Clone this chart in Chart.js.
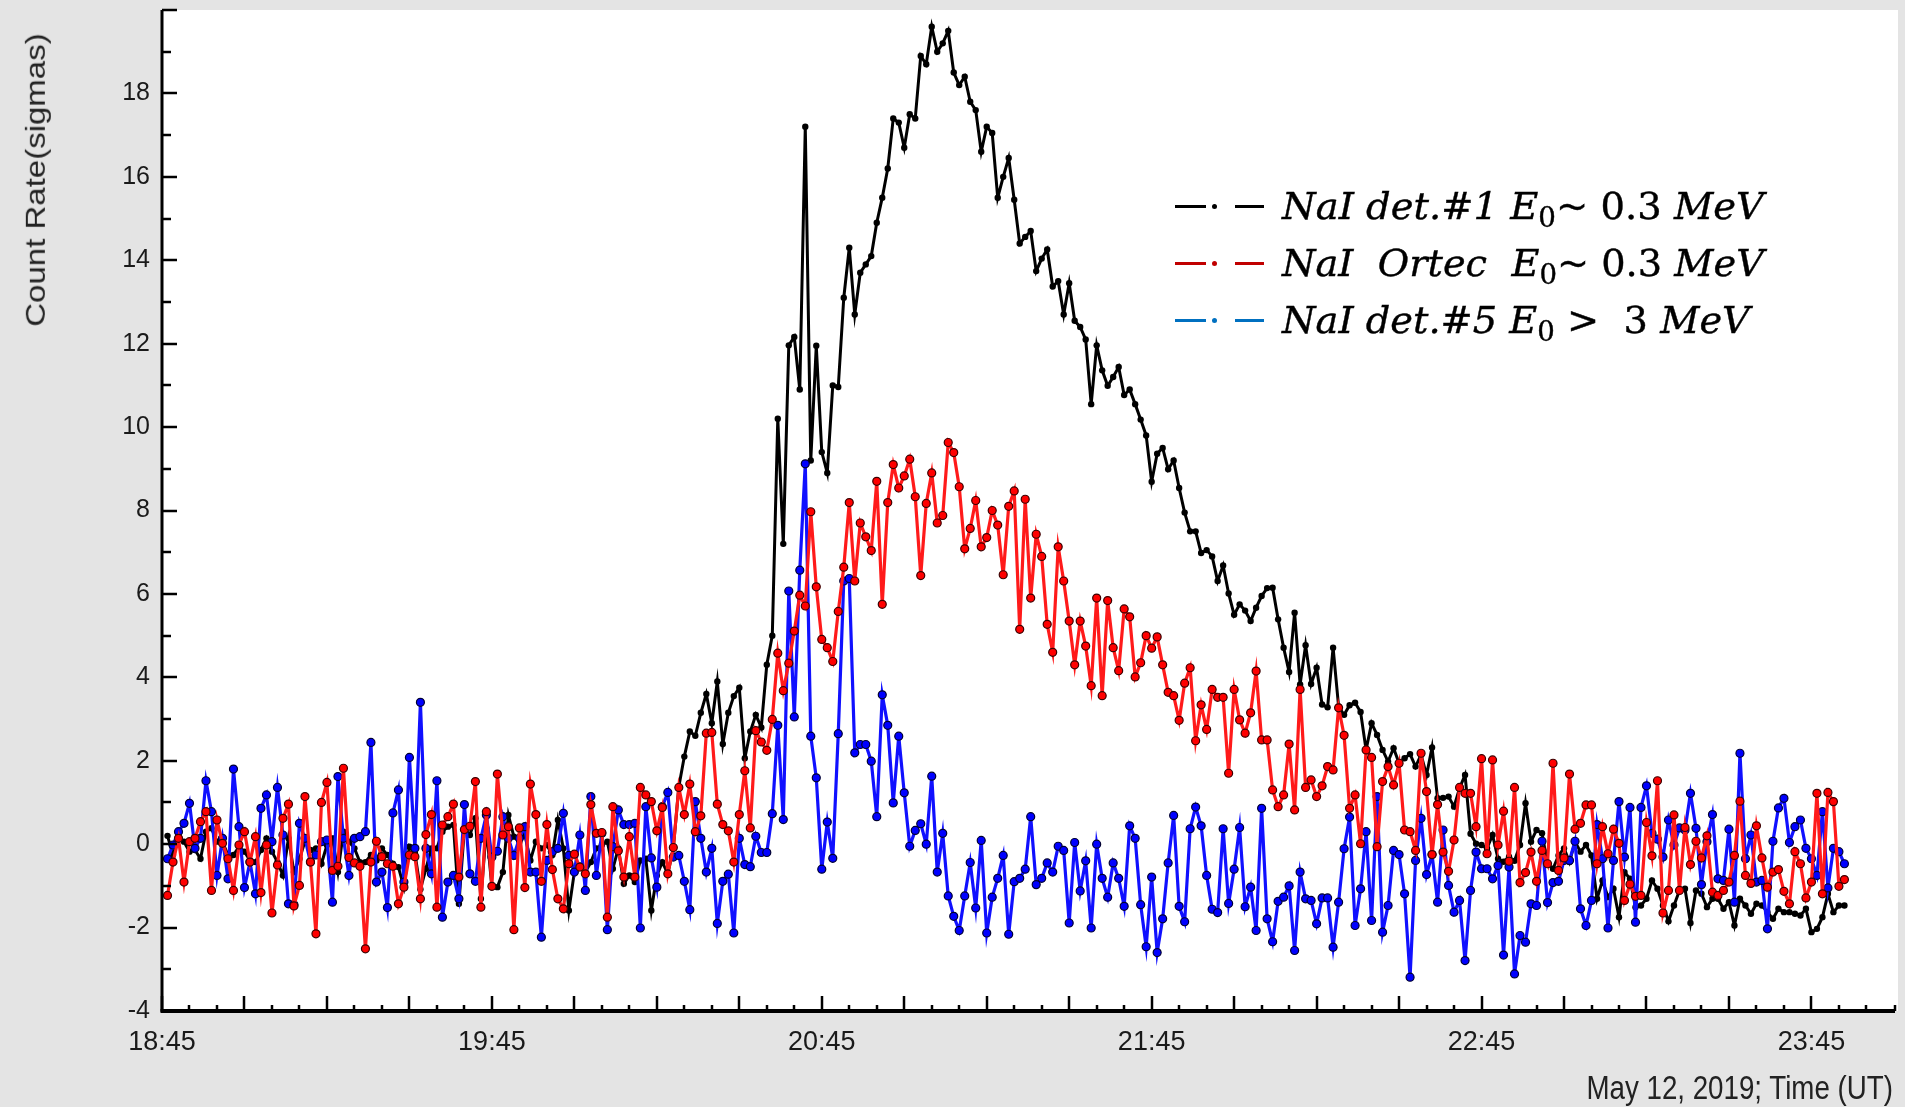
<!DOCTYPE html>
<html>
<head>
<meta charset="utf-8">
<script src="https://cdn.jsdelivr.net/npm/chart.js@4.4.1/dist/chart.umd.min.js"></script>
<style>
    html, body { margin: 0; padding: 0; background: #e4e4e4; }
    #wrap { position: relative; width: 1905px; height: 1107px; overflow: hidden; }
    #chart { position: absolute; left: 0; top: 0; }
    .ytitle {
        position: absolute; left: 35px; top: 180px; white-space: nowrap; color: #222;
        font: 33px 'Liberation Sans', Arial, sans-serif;
        transform: translate(-50%, -50%) rotate(-90deg) scaleY(0.85);
    }
    .xtitle {
        position: absolute; right: 12px; top: 1070px; white-space: nowrap; color: #222;
        font: 33px 'Liberation Sans', Arial, sans-serif; line-height: 36px;
        transform: scaleX(0.84); transform-origin: 100% 50%;
    }
    .legend { position: absolute; left: 1175px; top: 0; }
    .row { position: absolute; left: 0; width: 700px; height: 0; }
    .dash { position: absolute; height: 3px; top: -1.5px; }
    .dot { position: absolute; width: 5px; height: 5px; top: -2.5px; border-radius: 50%; }
    .txt {
        position: absolute; left: 107px; top: -19px; white-space: pre; color: #000;
        font: 38px 'DejaVu Serif', serif; line-height: 1; transform-origin: 0 50%;
        -webkit-text-stroke: 0.4px #000;
    }
    .txt i { font-style: italic; }
    .txt sub { font-size: 0.72em; vertical-align: -0.3em; line-height: 0; }
</style>
</head>
<body>
<div id="wrap">
    <canvas id="chart" width="1905" height="1107"></canvas>
    <div class="ytitle">Count Rate(sigmas)</div>
    <div class="xtitle">May 12, 2019; Time (UT)</div>
    <div class="legend" id="legend"></div>
</div>
<script>
// minutes after 18:45, one sample per minute starting 18:46
const xTickLabels = ['18:45', '19:45', '20:45', '21:45', '22:45', '23:45'];

// NaI det.#1 E0 ~ 0.3 MeV (black)
const det1 = [
    0.2, -0.26, 0.14, 0.06, -0.18, -0.14, -0.35, 0.3, 0.38, 0.06,
    0.06, -0.26, -0.26, -0.06, -0.18, -0.39, -0.43, -0.14, 0.14, -0.18,
    -0.43, -0.75, 0.14, -0.67, -0.35, 0.06, -0.14, -0.1, -0.47, -0.02,
    0.14, -0.67, 0.3, 0.06, -0.1, -0.43, -0.43, -0.26, -0.39, -0.1,
    -0.26, -0.47, -0.55, -1.03, -0.06, -0.22, -1.08, -0.59, -0.1, -0.1,
    0.3, 0.42, 0.46, -1.43, 0.38, 0.22, 0.62, -1.31, 0.38, -1.03,
    -1.03, -0.67, 0.7, 0.18, 0.06, 0.22, -0.39, 0.06, -0.1, -0.02,
    -0.26, 0.58, -0.1, -1.59, -0.67, -0.51, -0.67, -0.43, -0.1, -0.02,
    0.06, -0.59, -0.1, -0.95, -0.75, -0.91, -0.39, -0.35, -1.59, -0.75,
    -0.43, -0.71, -0.1, 1.38, 2.1, 2.7, 2.6, 3.15, 3.6, 2.9,
    3.9, 2.4, 3.15, 3.55, 3.75, 2.06, 2.7, 3.1, 2.8, 4.3,
    5.0, 10.2, 7.2, 11.96, 12.16, 10.9, 17.2, 9.2, 11.95, 9.4,
    8.9, 11.0, 10.96, 13.1, 14.3, 12.7, 13.7, 13.9, 14.1, 14.9,
    15.5, 16.2, 17.4, 17.3, 16.7, 17.5, 17.4, 18.9, 18.7, 19.6,
    19.0, 19.2, 19.5, 18.5, 18.2, 18.4, 17.8, 17.6, 16.6, 17.2,
    17.05, 15.5, 16.0, 16.45, 15.45, 14.4, 14.56, 14.7, 13.74, 14.04,
    14.26, 13.37, 13.5, 12.7, 13.45, 12.55, 12.4, 12.1, 10.55, 11.96,
    11.36, 10.99, 11.2, 11.44, 10.77, 10.9, 10.55, 10.18, 9.8, 8.69,
    9.36, 9.5, 8.99, 9.2, 8.54, 7.95, 7.5, 7.5, 6.98, 7.05,
    6.9, 6.31, 6.68, 6.01, 5.5, 5.75, 5.6, 5.35, 5.67, 5.95,
    6.14, 6.15, 5.39, 4.71, 4.13, 5.55, 3.83, 4.77, 3.84, 4.23,
    3.35, 3.28, 4.71, 3.3, 3.1, 3.33, 3.39, 3.17, 2.26, 2.9,
    2.62, 2.26, 1.98, 2.3, 1.94, 2.06, 2.16, 1.86, 2.14, 1.66,
    2.32, 1.1, 1.11, 1.14, 0.9, 1.34, 1.66, 0.25, 0.01, -0.02,
    -0.1, 0.22, -0.35, -0.42, -0.3, -0.4, -0.02, 0.98, 0.06, 0.34,
    0.26, -0.47, -0.59, -0.27, -0.1, -0.43, 0.06, -0.18, -0.02, -0.27,
    -1.31, -0.87, -1.27, -1.07, -1.75, -0.67, -0.83, -1.51, -1.47, -1.31,
    -0.87, -1.07, -1.47, -1.85, -1.47, -1.11, -1.07, -1.89, -1.11, -1.19,
    -1.51, -1.31, -1.31, -1.55, -1.39, -1.95, -1.31, -1.47, -1.67, -1.43,
    -1.47, -1.63, -1.79, -1.55, -1.63, -1.63, -1.67, -1.71, -1.55, -2.11,
    -2.03, -1.75, -1.19, -1.63, -1.47, -1.47
];

// NaI Ortec E0 ~ 0.3 MeV (red)
const ortec = [
    -1.23, -0.43, 0.14, -0.91, 0.06, 0.14, 0.54, 0.78, -1.11, 0.58,
    0.02, -0.35, -1.11, -0.02, 0.3, -0.43, 0.18, -1.16, -0.02, -1.65,
    -0.5, 0.62, 0.96, -1.48, -0.99, 1.14, -0.43, -2.15, 1.0, 1.48,
    -0.63, -0.53, 1.82, -0.32, -0.45, -0.53, -2.51, -0.43, 0.07, -0.3,
    -0.47, -0.53, -1.43, -1.03, -0.26, -0.3, -1.31, 0.23, 0.71, -1.51,
    0.46, 0.66, 0.96, -0.79, 0.35, 0.43, 1.5, -1.51, 0.78, -1.01,
    1.68, 0.22, 0.42, -2.05, 0.39, -1.04, 1.44, 0.71, -0.89, 0.47,
    -0.61, -1.31, -1.55, -0.47, -0.24, -0.55, -0.71, 0.95, 0.26, 0.28,
    -1.75, 0.9, -0.16, -0.79, 0.18, -0.79, 1.36, 1.18, 1.02, 0.32,
    0.88, -0.71, -0.08, 1.36, 0.71, 1.44, 0.3, 0.68, 2.66, 2.68,
    0.96, 0.47, 0.32, -0.43, 0.71, 1.76, 0.39, 2.72, 2.45, 2.25,
    2.99, 4.58, 3.68, 4.34, 5.11, 5.97, 5.71, 7.97, 6.17, 4.91,
    4.71, 4.38, 5.58, 6.64, 8.19, 6.31, 7.7, 7.37, 7.04, 8.7,
    5.75, 8.19, 9.1, 8.54, 8.83, 9.23, 8.33, 6.44, 8.17, 8.9,
    7.7, 7.88, 9.63, 9.39, 8.57, 7.08, 7.57, 8.24, 7.13, 7.35,
    8.0, 7.65, 6.46, 8.1, 8.47, 5.15, 8.27, 5.9, 7.43, 6.9,
    5.27, 4.6, 7.13, 6.31, 5.35, 4.3, 5.35, 4.75, 3.8, 5.9,
    3.56, 5.84, 4.71, 4.16, 5.64, 5.45, 4.01, 4.35, 5.0, 4.7,
    4.97, 4.3, 3.64, 3.56, 2.97, 3.86, 4.23, 2.48, 3.34, 2.75,
    3.71, 3.52, 3.52, 1.7, 3.71, 2.98, 2.66, 3.15, 4.15, 2.5,
    2.5, 1.3, 0.9, 1.18, 2.4, 0.82, 3.71, 1.36, 1.54, 1.14,
    1.4, 1.86, 1.78, 3.27, 2.61, 0.86, 1.18, 0.01, 2.26, 2.08,
    -0.06, 1.5, 1.86, 1.42, 1.94, 0.34, 0.3, -0.15, 2.18, 1.26,
    -0.25, 0.95, -0.19, -0.65, 0.1, 1.36, 1.22, 1.22, 0.42, 2.05,
    -0.23, 2.02, -0.02, 0.79, -0.41, 1.36, -0.92, -0.68, -0.19, -0.89,
    -0.15, -0.47, 1.94, -0.63, -0.33, 1.68, 0.36, 0.5, 0.94, 0.94,
    -0.47, 0.42, -0.23, 0.36, 0.02, -1.35, -0.96, -1.25, -1.23, 0.52,
    -0.28, 1.52, -1.65, -1.11, 0.7, -1.11, 0.4, -0.49, 0.07, -0.33,
    0.2, -1.15, -1.23, -1.11, -0.91, -0.27, 1.03, -0.75, -0.94, 0.44,
    -0.33, -1.03, -0.67, -0.61, -1.13, -1.43, -0.18, -0.47, -1.29, -0.91,
    1.22, -1.19, 1.24, 1.02, -1.01, -0.85
];

// NaI det.#5 E0 > 3 MeV (blue)
const det5 = [
    -0.35, -0.02, 0.3, 0.5, 0.98, -0.1, 0.14, 1.52, 0.78, -0.75,
    0.14, -0.83, 1.8, 0.42, -1.04, -0.43, -1.19, 0.86, 1.18, 0.06,
    1.36, 0.22, -1.43, -1.45, 0.5, 0.14, -0.43, -0.26, 0.06, 0.1,
    -1.39, 1.62, 0.14, -0.75, 0.14, 0.18, 0.3, 2.44, -0.91, -0.67,
    -1.52, 0.75, 1.3, -0.91, 2.08, -0.1, 3.4, -0.1, -0.71, 1.52,
    -1.75, -0.91, -0.75, -1.31, 0.95, -0.71, -0.89, 0.14, 0.7, -0.31,
    -0.17, 0.66, 0.14, -0.27, 0.14, 0.42, -0.67, -0.67, -2.23, -0.39,
    -0.18, -0.1, 0.74, -0.27, -0.67, 0.22, -1.11, 1.14, -0.75, 0.26,
    -2.05, -0.06, 0.82, 0.47, 0.47, 0.5, -2.01, 0.9, -0.33, -1.03,
    0.9, 1.24, -0.31, -0.27, -0.89, -1.57, 1.02, 0.14, -0.67, -0.1,
    -1.9, -0.89, -0.72, -2.13, 0.14, -0.49, -0.54, 0.19, -0.2, -0.2,
    0.73, 2.85, 0.59, 6.07, 3.05, 6.57, 9.12, 2.59, 1.59, -0.6,
    0.53, -0.34, 2.65, 6.31, 6.37, 2.19, 2.39, 2.39, 1.99, 0.66,
    3.58, 2.85, 0.99, 2.59, 1.23, -0.05, 0.33, 0.49, 0.0, 1.63,
    -0.67, 0.26, -1.24, -1.73, -2.07, -1.24, -0.44, -1.53, 0.09, -2.13,
    -1.27, -0.82, -0.27, -2.16, -0.9, -0.82, -0.6, 0.66, -0.97, -0.82,
    -0.45, -0.67, -0.05, -0.15, -1.89, 0.04, -1.12, -0.4, -2.01, 0.0,
    -0.82, -1.27, -0.45, -0.82, -1.49, 0.44, 0.14, -1.45, -2.46, -0.79,
    -2.6, -1.79, -0.45, 0.69, -1.49, -1.86, 0.37, 0.89, 0.44, -0.75,
    -1.56, -1.64, 0.37, -1.42, -0.6, 0.4, -1.5, -1.03, -2.07, 0.86,
    -1.79, -2.34, -1.37, -1.27, -1.0, -2.55, -0.67, -1.31, -1.35, -1.91,
    -1.29, -1.29, -2.47, -1.39, -0.11, 0.65, -1.95, -1.07, 0.3, -1.83,
    1.14, -2.11, -1.47, -0.15, -0.25, -1.19, -3.19, -0.39, 0.62, -0.73,
    -0.25, -1.39, 0.34, -0.99, -1.63, -1.35, -2.79, -1.11, -0.19, -0.59,
    -0.59, -0.83, -0.51, -2.66, -0.55, -3.11, -2.19, -2.35, -1.43, -1.47,
    0.07, -1.4, -0.92, -0.89, -0.39, -0.39, 0.07, -1.55, -1.95, -1.35,
    0.47, -0.35, -2.01, -0.39, 1.02, -0.31, 0.88, -1.87, 0.88, 1.4,
    0.26, 0.12, -0.31, 0.58, -0.02, 0.39, 0.34, 1.22, 0.38, -0.97,
    0.06, 0.71, -0.83, -0.87, 0.36, -1.39, 2.18, -0.35, 0.22, -0.91,
    -0.87, -2.03, 0.07, 0.87, 1.1, 0.04, 0.42, 0.58, -0.1, -0.35,
    -0.75, 0.78, -1.05, -0.1, -0.18, -0.47
];

const minutes = det1.map((_, i) => i + 1);
const toPoints = arr => arr.map((v, i) => ({ x: minutes[i], y: v }));

// grey frame, white plot, axis lines and inward ticks
const frame = {
    id: 'frame',
    beforeDraw(chart) {
        const { ctx, chartArea: a } = chart;
        ctx.save();
        ctx.fillStyle = '#e4e4e4';
        ctx.fillRect(0, 0, chart.width, chart.height);
        ctx.fillStyle = '#ffffff';
        ctx.fillRect(a.left, a.top, a.right - a.left + 3, a.bottom - a.top);
        ctx.restore();
    },
    afterDraw(chart) {
        const { ctx, chartArea: a, scales: { x, y } } = chart;
        ctx.save();
        ctx.strokeStyle = '#000';
        ctx.lineWidth = 2.5;
        ctx.beginPath();
        x.ticks.forEach(t => {
            const px = Math.round(x.getPixelForValue(t.value));
            const len = t.value % 15 === 0 ? 15 : 6;
            ctx.moveTo(px, a.bottom);
            ctx.lineTo(px, a.bottom - len);
        });
        y.ticks.forEach(t => {
            const py = Math.round(y.getPixelForValue(t.value));
            const len = t.value % 2 === 0 ? 15 : 9;
            ctx.moveTo(a.left, py);
            ctx.lineTo(a.left + len, py);
        });
        ctx.stroke();
        ctx.lineWidth = 3;
        ctx.beginPath();
        ctx.moveTo(a.left, a.top);
        ctx.lineTo(a.left, a.bottom + 1);
        ctx.stroke();
        ctx.lineWidth = 4;
        ctx.beginPath();
        ctx.moveTo(a.left - 1.5, a.bottom);
        ctx.lineTo(a.right, a.bottom);
        ctx.stroke();
        ctx.restore();
    }
};

const tickFont = { family: "'Liberation Sans', Arial, sans-serif" };

new Chart(document.getElementById('chart').getContext('2d'), {
    type: 'line',
    data: {
        datasets: [
            {
                label: 'NaI Ortec',
                data: toPoints(ortec),
                borderColor: '#ff1a1a',
                borderWidth: 3.2,
                pointRadius: 4,
                pointBackgroundColor: '#ff0000',
                pointBorderColor: '#3a0000',
                pointBorderWidth: 1.2,
                order: 0
            },
            {
                label: 'NaI det.#5',
                data: toPoints(det5),
                borderColor: '#1010ff',
                borderWidth: 3.2,
                pointRadius: 4,
                pointBackgroundColor: '#0000ff',
                pointBorderColor: '#000030',
                pointBorderWidth: 1.2,
                order: 1
            },
            {
                label: 'NaI det.#1',
                data: toPoints(det1),
                borderColor: '#000000',
                borderWidth: 3,
                pointRadius: 3.2,
                pointBackgroundColor: '#000000',
                pointBorderWidth: 0,
                order: 2
            }
        ]
    },
    options: {
        responsive: false,
        animation: false,
        layout: { padding: { left: 0, top: 10, right: 10, bottom: 0 } },
        plugins: { legend: { display: false }, tooltip: { enabled: false } },
        elements: { line: { tension: 0 } },
        scales: {
            x: {
                type: 'linear',
                min: 0,
                max: 315.2,
                grid: { display: false, drawTicks: false },
                border: { display: false },
                ticks: {
                    stepSize: 5,
                    autoSkip: false,
                    maxRotation: 0,
                    padding: 15,
                    color: '#1a1a1a',
                    font: { ...tickFont, size: 27 },
                    callback: v => (v % 60 === 0 ? xTickLabels[v / 60] : '')
                },
                afterFit: s => { s.height = 96; s.paddingLeft = 0; s.paddingRight = 0; }
            },
            y: {
                min: -4,
                max: 20,
                grid: { display: false, drawTicks: false },
                border: { display: false },
                ticks: {
                    stepSize: 1,
                    autoSkip: false,
                    padding: 12,
                    color: '#1a1a1a',
                    font: { ...tickFont, size: 25 },
                    callback: v => (v % 2 === 0 && v < 20 ? String(v) : '')
                },
                afterFit: s => { s.width = 162; s.paddingTop = 0; s.paddingBottom = 0; }
            }
        }
    },
    plugins: [frame]
});

// legend (italic math-style text)
const legendRows = [
    { color: '#000000', y: 206, width: 482, html: '<i>NaI det.#1 E</i><sub>0</sub>~ 0.3 <i>MeV</i>' },
    { color: '#c00000', y: 263, width: 482, html: '<i>NaI  Ortec  E</i><sub>0</sub>~ 0.3 <i>MeV</i>' },
    { color: '#0070c0', y: 320, width: 468, html: '<i>NaI det.#5 E</i><sub>0</sub> &gt;  3 <i>MeV</i>' }
];
const legend = document.getElementById('legend');
legendRows.forEach(r => {
    const row = document.createElement('div');
    row.className = 'row';
    row.style.top = r.y + 'px';
    row.innerHTML =
        '<span class="dash" style="left:0;width:31px;background:' + r.color + '"></span>' +
        '<span class="dot" style="left:37px;background:' + r.color + '"></span>' +
        '<span class="dash" style="left:60px;width:29px;background:' + r.color + '"></span>' +
        '<span class="txt">' + r.html + '</span>';
    legend.appendChild(row);
    const txt = row.querySelector('.txt');
    const w = txt.getBoundingClientRect().width;
    if (w > 0) txt.style.transform = 'scaleX(' + (r.width / w).toFixed(3) + ')';
});
</script>
</body>
</html>
